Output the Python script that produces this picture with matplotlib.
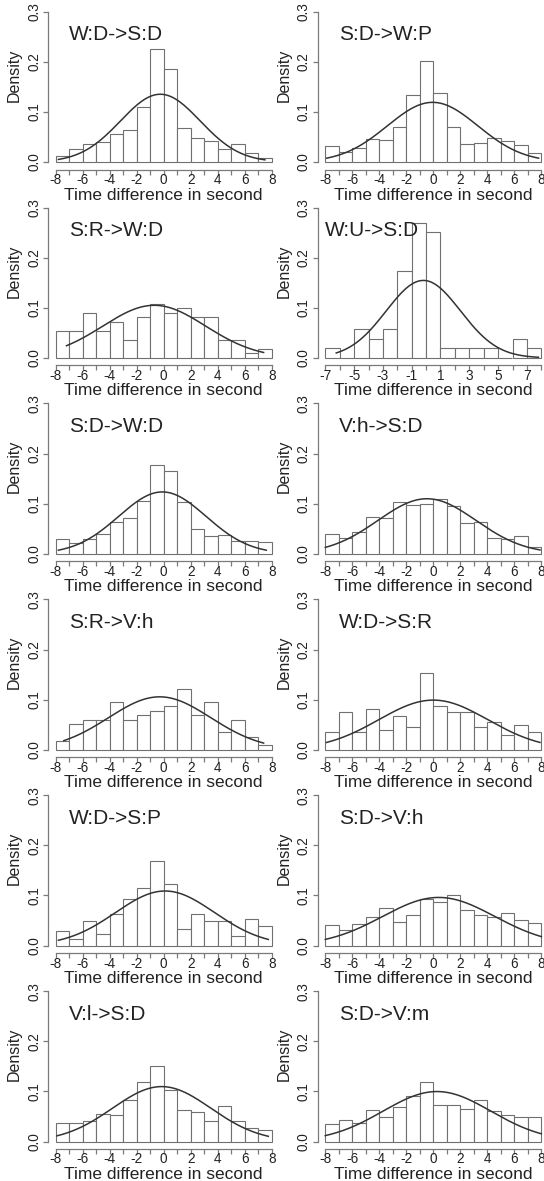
import numpy as np
import matplotlib
matplotlib.use("Agg")
import matplotlib.pyplot as plt

plt.rcParams['font.family'] = ['Liberation Sans', 'DejaVu Sans']

W, H, DPI = 544, 1181, 100

titles = ["W:D->S:D", "S:D->W:P", "S:R->W:D", "W:U->S:D",
          "S:D->W:D", "V:h->S:D", "S:R->V:h", "W:D->S:R",
          "W:D->S:P", "S:D->V:h", "V:l->S:D", "S:D->V:m"]

bin_start = [-8, -8, -8, -7, -8, -8, -8, -8, -8, -8, -8, -8]

dens_1 = [0.012, 0.026, 0.036, 0.040, 0.056, 0.064, 0.110, 0.226, 0.185, 0.067, 0.048, 0.042, 0.025, 0.035, 0.017, 0.008]
dens_2 = [0.032, 0.020, 0.028, 0.046, 0.044, 0.070, 0.133, 0.201, 0.137, 0.070, 0.036, 0.038, 0.048, 0.042, 0.034, 0.017]
dens_3 = [0.054, 0.054, 0.090, 0.054, 0.072, 0.036, 0.082, 0.108, 0.090, 0.100, 0.082, 0.082, 0.036, 0.036, 0.009, 0.018]
dens_4 = [0.019, 0.000, 0.058, 0.038, 0.058, 0.174, 0.269, 0.252, 0.019, 0.019, 0.019, 0.019, 0.000, 0.038, 0.019]
dens_5 = [0.029, 0.022, 0.029, 0.040, 0.064, 0.072, 0.106, 0.177, 0.165, 0.103, 0.050, 0.035, 0.038, 0.025, 0.025, 0.023]
dens_6 = [0.039, 0.032, 0.044, 0.074, 0.071, 0.104, 0.098, 0.100, 0.110, 0.096, 0.062, 0.064, 0.032, 0.030, 0.035, 0.014]
dens_7 = [0.017, 0.052, 0.060, 0.060, 0.096, 0.060, 0.070, 0.078, 0.087, 0.122, 0.070, 0.096, 0.035, 0.060, 0.026, 0.009]
dens_8 = [0.036, 0.076, 0.036, 0.082, 0.040, 0.067, 0.046, 0.154, 0.088, 0.076, 0.076, 0.046, 0.056, 0.030, 0.050, 0.036]
dens_9 = [0.029, 0.014, 0.049, 0.024, 0.064, 0.094, 0.114, 0.169, 0.123, 0.033, 0.064, 0.049, 0.049, 0.019, 0.054, 0.040]
dens_10 = [0.042, 0.031, 0.044, 0.058, 0.076, 0.048, 0.062, 0.094, 0.087, 0.100, 0.072, 0.062, 0.057, 0.066, 0.052, 0.046]
dens_11 = [0.037, 0.037, 0.040, 0.055, 0.052, 0.082, 0.118, 0.151, 0.103, 0.063, 0.059, 0.040, 0.070, 0.040, 0.026, 0.023]
dens_12 = [0.034, 0.042, 0.036, 0.062, 0.048, 0.068, 0.090, 0.119, 0.072, 0.072, 0.064, 0.082, 0.060, 0.052, 0.048, 0.048]
densities = [dens_1, dens_2, dens_3, dens_4, dens_5, dens_6,
             dens_7, dens_8, dens_9, dens_10, dens_11, dens_12]

# fitted normal curves
curve_mean = [-0.25, -0.05, -0.7, -0.19, -0.1, -0.47, -0.3, 0.0, 0.1, 0.4, -0.15, 0.27]
curve_sd = [2.95, 3.35, 3.8, 2.58, 3.23, 3.63, 3.78, 4.03, 3.66, 4.15, 3.64, 4.0]
curve_from = [-7.8, -7.9, -7.2, -6.24, -7.8, -8.0, -7.4, -7.9, -7.8, -8.0, -7.9, -8.0]
curve_to = [7.5, 7.8, 7.4, 7.8, 7.6, 7.9, 7.4, 7.9, 7.75, 8.0, 7.75, 8.0]

y_ticks = [0.0, 0.1, 0.2, 0.3]
y_tick_labels = ["0.0", "0.1", "0.2", "0.3"]

fig = plt.figure(figsize=(W / DPI, H / DPI), dpi=DPI)
fig.patch.set_facecolor("white")

col_x0 = [55.7, 325.3]      # pixel of left bin edge
plot_w = 216.0              # pixel width of the bins
row_y0 = 162.0              # pixel of density 0 in first row
row_step = 195.9
ppy = 150.3 / 0.3           # pixel per density unit
off = 7.5                   # gap between data and axis lines

AX_COL = "#7a7a7a"
BAR_EDGE = "#707070"
TXT = "#222222"

for i in range(12):
    r, c = divmod(i, 2)
    d = densities[i]
    xmin = bin_start[i]
    nb = len(d)
    xmax = xmin + nb
    ppu = plot_w / nb
    X0 = col_x0[c]
    Y0 = row_y0 + row_step * r
    left = X0 - off
    right = X0 + plot_w + off
    bottom = Y0 + off
    top = Y0 - 150.3 - off
    ax = fig.add_axes([left / W, 1 - bottom / H, (right - left) / W, (bottom - top) / H])
    ax.set_xlim(xmin - off / ppu, xmax + off / ppu)
    ax.set_ylim(-off / ppy, 0.3 + off / ppy)
    ax.patch.set_visible(False)

    edges = np.arange(xmin, xmax + 1)
    ax.bar(edges[:-1], d, width=1.0, align='edge', facecolor='white',
           edgecolor=BAR_EDGE, linewidth=0.8, zorder=2)

    m, s = curve_mean[i], curve_sd[i]
    xs = np.linspace(curve_from[i], curve_to[i], 300)
    ys = np.exp(-0.5 * ((xs - m) / s) ** 2) / (s * np.sqrt(2 * np.pi))
    ax.plot(xs, ys, color="#333333", linewidth=1.1, zorder=3)

    for sp in ['top', 'right']:
        ax.spines[sp].set_visible(False)
    ax.spines['left'].set_bounds(0, 0.3)
    ax.spines['bottom'].set_bounds(xmin, xmax)
    for sp in ['left', 'bottom']:
        ax.spines[sp].set_color(AX_COL)
        ax.spines[sp].set_linewidth(0.9)

    ax.set_xticks(edges)
    ax.set_xticklabels([str(v) if (v - xmin) % 2 == 0 else "" for v in edges])
    ax.set_yticks(y_ticks)
    ax.set_yticklabels(y_tick_labels, rotation=90, va='center')
    ax.tick_params(axis='both', colors=AX_COL, labelcolor=TXT, length=3.5,
                   width=0.9, labelsize=9.8)
    ax.tick_params(axis='x', pad=-1.0)
    ax.tick_params(axis='y', pad=1.5)

    ax.text(-7, 0.254, titles[i], ha='left', va='center', fontsize=15, color=TXT)

    # axis titles
    fig.text((X0 + plot_w / 2) / W, 1 - (Y0 + 37.5) / H, "Time difference in second",
             ha='center', va='baseline', fontsize=12.5, color=TXT)
    fig.text((left - 34) / W, 1 - (Y0 - 87) / H, "Density", rotation=90,
             ha='center', va='center', fontsize=11.5, color=TXT)

fig.savefig("out.png", dpi=DPI, facecolor="white")
